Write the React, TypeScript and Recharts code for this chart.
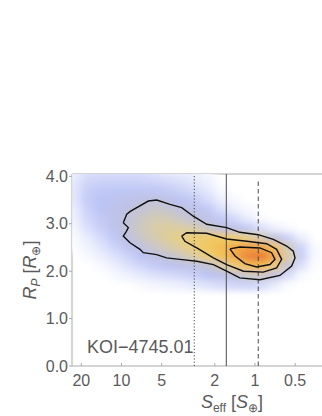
import React from 'react';
import { ScatterChart, Scatter, XAxis, YAxis, Label } from 'recharts';

// Grid of the posterior density (S_eff column centres, R_P row centres)
const sBins = [22.39, 17.78, 14.13, 11.22, 8.913, 7.079, 5.623, 4.467, 3.548, 2.818, 2.239, 1.778, 1.413, 1.122, 0.891, 0.708, 0.562, 0.447, 0.355];
const rBins = [4.1, 3.9, 3.7, 3.5, 3.3, 3.1, 2.9, 2.7, 2.5, 2.3, 2.1, 1.9, 1.7];
const density = [
  [0.05, 0.1, 0.1, 0.1, 0.1, 0.1, 0.08, 0.06, 0.05, 0.04, 0.02, 0, 0, 0, 0, 0, 0, 0, 0],
  [0.07, 0.13, 0.14, 0.14, 0.14, 0.14, 0.13, 0.11, 0.09, 0.07, 0.04, 0, 0, 0, 0, 0, 0, 0, 0],
  [0.08, 0.16, 0.18, 0.19, 0.19, 0.19, 0.19, 0.17, 0.14, 0.11, 0.07, 0.02, 0, 0, 0, 0, 0, 0, 0],
  [0.08, 0.17, 0.2, 0.22, 0.24, 0.27, 0.29, 0.26, 0.21, 0.17, 0.11, 0.05, 0.02, 0, 0, 0, 0, 0, 0],
  [0.06, 0.15, 0.2, 0.24, 0.28, 0.33, 0.36, 0.34, 0.3, 0.25, 0.18, 0.1, 0.05, 0.02, 0, 0, 0, 0, 0],
  [0.05, 0.13, 0.18, 0.24, 0.31, 0.37, 0.41, 0.41, 0.37, 0.31, 0.25, 0.18, 0.12, 0.06, 0.02, 0, 0, 0, 0],
  [0.03, 0.1, 0.16, 0.23, 0.32, 0.39, 0.44, 0.46, 0.45, 0.43, 0.36, 0.3, 0.25, 0.18, 0.1, 0.05, 0.02, 0, 0],
  [0.02, 0.06, 0.12, 0.19, 0.3, 0.36, 0.42, 0.47, 0.51, 0.56, 0.59, 0.61, 0.57, 0.5, 0.42, 0.3, 0.15, 0.05, 0],
  [0.01, 0.04, 0.08, 0.14, 0.22, 0.29, 0.36, 0.42, 0.48, 0.55, 0.63, 0.69, 0.77, 0.81, 0.79, 0.66, 0.4, 0.14, 0.02],
  [0, 0.02, 0.05, 0.09, 0.14, 0.2, 0.27, 0.32, 0.38, 0.45, 0.55, 0.66, 0.77, 0.91, 0.95, 0.79, 0.45, 0.16, 0.02],
  [0, 0, 0.02, 0.05, 0.09, 0.13, 0.17, 0.21, 0.24, 0.27, 0.32, 0.42, 0.55, 0.68, 0.7, 0.55, 0.32, 0.09, 0.01],
  [0, 0, 0, 0.02, 0.04, 0.07, 0.09, 0.11, 0.13, 0.16, 0.2, 0.25, 0.3, 0.36, 0.38, 0.28, 0.11, 0.02, 0],
  [0, 0, 0, 0, 0, 0.02, 0.03, 0.04, 0.05, 0.07, 0.09, 0.11, 0.13, 0.14, 0.12, 0.06, 0.01, 0, 0],
];

// Credible-region contours (S_eff, R_P)
const outerS = [9.7, 9.14, 8.6, 6.3, 5.45, 4.33, 3.54, 2.9, 2.3, 1.63, 1.3, 0.945, 0.729, 0.579, 0.516, 0.501, 0.531, 0.65, 0.918, 1.3, 1.63, 2.05, 2.73, 3.65, 4.6, 5.45, 6.87, 7.27, 8.64, 9.7, 9.2, 8.89, 9.7];
const outerR = [3.02, 3.2, 3.26, 3.48, 3.5, 3.41, 3.34, 3.16, 2.99, 2.92, 2.82, 2.77, 2.67, 2.53, 2.42, 2.28, 2.11, 1.91, 1.82, 1.86, 2.0, 2.14, 2.21, 2.25, 2.28, 2.35, 2.39, 2.46, 2.6, 2.74, 2.84, 2.92, 3.02];
const midS = [3.54, 3.25, 2.3, 1.63, 1.15, 0.817, 0.688, 0.631, 0.688, 0.867, 1.22, 1.63, 2.05, 2.73, 3.35, 3.54];
const midR = [2.74, 2.81, 2.8, 2.68, 2.63, 2.58, 2.46, 2.25, 2.07, 1.98, 2.0, 2.14, 2.28, 2.49, 2.63, 2.74];
const innerS = [1.54, 1.3, 0.918, 0.75, 0.708, 0.772, 0.971, 1.19, 1.41, 1.54];
const innerR = [2.47, 2.51, 2.49, 2.39, 2.25, 2.14, 2.09, 2.16, 2.32, 2.47];

// Flux reference lines (S_eff) and their dash styles
const refS = [2.85, 1.64, 0.945];
const refDash = ['1.2 2', '', '4.5 3'];
const refTopR = [4.05, 4.05, 3.95];

const xTicks = [20, 10, 5, 2, 1, 0.5];
const yTicks = [0, 1, 2, 3, 4];

const heatCells = rBins.flatMap((r, i) =>
  sBins.map((s, j) => ({ s, r, v: density[i][j] })).filter((c) => c.v > 0)
);
const toPts = (S: number[], R: number[]) => S.map((s, i) => ({ s, r: R[i] }));
const outer = toPts(outerS, outerR);
const mid = toPts(midS, midR);
const inner = toPts(innerS, innerR);
const refLines = refS.map((s, i) => [
  { s, r: 0 },
  { s, r: refTopR[i] },
]);

const stops: [number, number[]][] = [
  [0.0, [255, 255, 255]],
  [0.1, [218, 223, 251]],
  [0.2, [188, 196, 244]],
  [0.3, [192, 194, 222]],
  [0.4, [208, 202, 186]],
  [0.5, [230, 207, 138]],
  [0.62, [242, 201, 96]],
  [0.75, [244, 178, 76]],
  [0.88, [238, 142, 62]],
  [1.0, [228, 108, 48]],
];
const heatColor = (v: number) => {
  for (let k = 1; k < stops.length; k++) {
    if (v <= stops[k][0]) {
      const [a, ca] = stops[k - 1];
      const [b, cb] = stops[k];
      const t = (v - a) / (b - a);
      const c = ca.map((x, i) => Math.round(x + (cb[i] - x) * t));
      return `rgb(${c[0]},${c[1]},${c[2]})`;
    }
  }
  return 'rgb(228,108,48)';
};

const HeatCell = (p: any) => (
  <rect x={p.cx - 7.2} y={p.cy - 5.2} width={14.4} height={10.4} fill={heatColor(p.payload.v)} />
);
const NoDot = () => <g />;

const FONT = '"Liberation Sans", Arial, sans-serif';
const tickStyle = { fontSize: 16, fill: '#5a5a5a', fontFamily: FONT };

export default function App() {
  return (
    <div style={{ position: 'absolute', left: 0, top: 0, width: 322, height: 416, overflow: 'hidden', background: '#fff' }}>
      <svg width={0} height={0} style={{ position: 'absolute' }}>
        <defs>
          <filter id="heatBlur" x="-20%" y="-20%" width="140%" height="140%">
            <feGaussianBlur stdDeviation="4 3" />
          </filter>
        </defs>
      </svg>
      <style>{`.heat{filter:url(#heatBlur);}`}</style>
      <ScatterChart width={400} height={416} margin={{ top: 173, right: 8, bottom: 20, left: 0 }}>
        <XAxis
          dataKey="s"
          type="number"
          scale="log"
          domain={[0.094, 23.5]}
          reversed
          allowDataOverflow
          ticks={xTicks}
          interval={0}
          tickSize={-3}
          tickMargin={12}
          height={30}
          stroke="#aaa"
          tick={tickStyle}
        >
          <Label
            content={(props: any) => {
              const vb = props.viewBox;
              const cx = vb.x + vb.width / 2;
              return (
                <text x={cx} y={vb.y + 42} textAnchor="middle" fill="#5a5a5a" fontSize={18} fontFamily={FONT}>
                  <tspan fontStyle="italic">S</tspan>
                  <tspan fontSize={12} dy={4}>eff</tspan>
                  <tspan dy={-4}> [</tspan>
                  <tspan fontStyle="italic">S</tspan>
                  <tspan fontSize={12} dy={4}>⊕</tspan>
                  <tspan dy={-4}>]</tspan>
                </text>
              );
            }}
          />
        </XAxis>
        <XAxis
          xAxisId="top"
          orientation="top"
          type="number"
          scale="log"
          domain={[0.094, 23.5]}
          reversed
          allowDataOverflow
          ticks={xTicks}
          interval={0}
          tickSize={-3}
          height={1}
          stroke="#aaa"
          tickFormatter={() => ''}
        />
        <YAxis
          dataKey="r"
          type="number"
          domain={[0, 4.05]}
          allowDataOverflow
          ticks={yTicks}
          interval={0}
          tickFormatter={(v: number) => v.toFixed(1)}
          width={72}
          tickSize={3}
          tickMargin={1}
          stroke="#aaa"
          tick={tickStyle}
        >
          <Label
            content={(props: any) => {
              const vb = props.viewBox;
              const cx = vb.x + 36;
              const cy = vb.y + vb.height / 2;
              return (
                <text
                  x={cx}
                  y={cy}
                  transform={`rotate(-90 ${cx} ${cy})`}
                  textAnchor="middle"
                  fill="#5a5a5a"
                  fontSize={18}
                  fontFamily={FONT}
                >
                  <tspan fontStyle="italic">R</tspan>
                  <tspan fontSize={12} dy={4} fontStyle="italic">P</tspan>
                  <tspan dy={-4}> [</tspan>
                  <tspan fontStyle="italic">R</tspan>
                  <tspan fontSize={12} dy={4}>⊕</tspan>
                  <tspan dy={-4}>]</tspan>
                </text>
              );
            }}
          />
        </YAxis>
        <Scatter className="heat" data={heatCells} shape={HeatCell} isAnimationActive={false} />
        {refLines.map((pts, i) => (
          <Scatter
            key={'ref' + i}
            data={pts}
            shape={NoDot}
            line={{ stroke: '#4a4a4a', strokeWidth: 1, strokeDasharray: refDash[i] || undefined }}
            isAnimationActive={false}
          />
        ))}
        <Scatter data={outer} shape={NoDot} line={{ stroke: '#111', strokeWidth: 1.4 }} isAnimationActive={false} />
        <Scatter data={mid} shape={NoDot} line={{ stroke: '#111', strokeWidth: 1.4 }} isAnimationActive={false} />
        <Scatter data={inner} shape={NoDot} line={{ stroke: '#111', strokeWidth: 1.4 }} isAnimationActive={false} />
      </ScatterChart>
      <svg width={322} height={416} style={{ position: 'absolute', left: 0, top: 0, pointerEvents: 'none' }}>
        <text x={87} y={352.5} fontSize={18} fill="#5a5a5a" fontFamily={FONT}>KOI−4745.01</text>
      </svg>
    </div>
  );
}
